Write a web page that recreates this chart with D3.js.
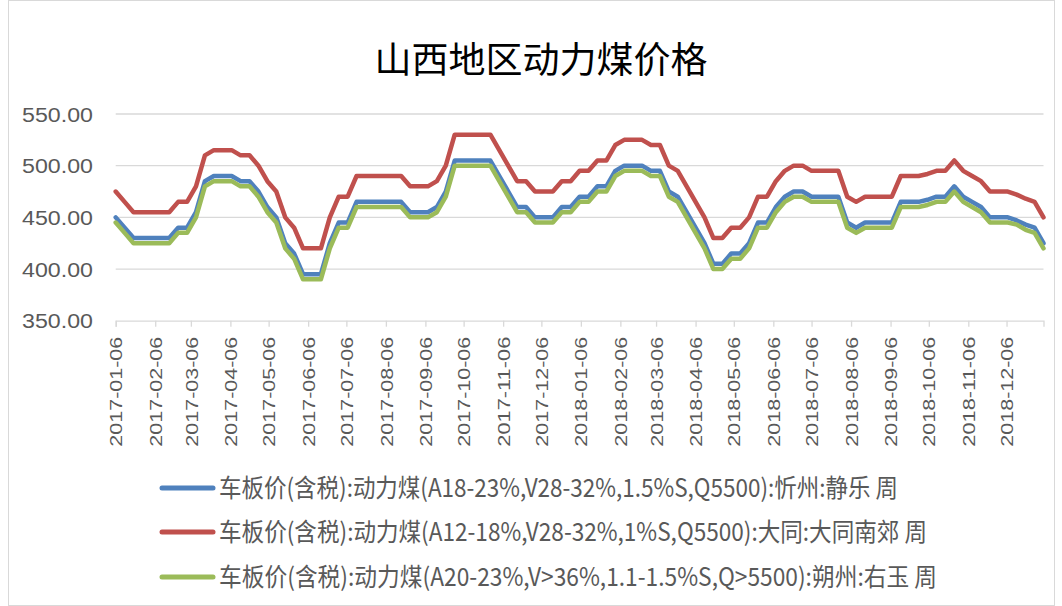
<!DOCTYPE html>
<html>
<head>
<meta charset="utf-8">
<script src="https://cdn.jsdelivr.net/npm/d3@7"></script>
<style>
  html, body { margin: 0; padding: 0; background: #fff; }
  svg { display: block; }
  text { font-family: "Liberation Sans", Arial, "Noto Sans CJK SC", sans-serif; }
  .cjk { font-family: "Noto Sans CJK SC", "Liberation Sans", sans-serif; }
</style>
</head>
<body>
<svg id="chart" width="1062" height="606"></svg>
<script>
const title = "山西地区动力煤价格"
const seriesNames = [
  "车板价(含税):动力煤(A18-23%,V28-32%,1.5%S,Q5500):忻州:静乐 周",
  "车板价(含税):动力煤(A12-18%,V28-32%,1%S,Q5500):大同:大同南郊 周",
  "车板价(含税):动力煤(A20-23%,V>36%,1.1-1.5%S,Q>5500):朔州:右玉 周"
]
const seriesColors = ["#4f81bd", "#c0504d", "#9bbb59"]
const firstWeek = "2017-01-06", lastWeek = "2019-01-04"
const yTicks = [350, 400, 450, 500, 550]

// weekly values
const jingle = [
  450, 440, 430, 430, 430, 430, 430, 440, 440, 455,
  485, 490, 490, 490, 485, 485, 475, 460, 450, 425,
  415, 395, 395, 395, 425, 445, 445, 465, 465, 465,
  465, 465, 465, 455, 455, 455, 460, 475, 505, 505,
  505, 505, 505, 490, 475, 460, 460, 450, 450, 450,
  460, 460, 470, 470, 480, 480, 495, 500, 500, 500,
  495, 495, 475, 470, 455, 440, 425, 405, 405, 415,
  415, 425, 445, 445, 460, 470, 475, 475, 470, 470,
  470, 470, 445, 440, 445, 445, 445, 445, 465, 465,
  465, 467, 470, 470, 480, 470, 465, 460, 450, 450,
  450, 447, 443, 440, 425
]
const datongNanjiao = [
  475, 465, 455, 455, 455, 455, 455, 465, 465, 480,
  510, 515, 515, 515, 510, 510, 500, 485, 475, 450,
  440, 420, 420, 420, 450, 470, 470, 490, 490, 490,
  490, 490, 490, 480, 480, 480, 485, 500, 530, 530,
  530, 530, 530, 515, 500, 485, 485, 475, 475, 475,
  485, 485, 495, 495, 505, 505, 520, 525, 525, 525,
  520, 520, 500, 495, 480, 465, 450, 430, 430, 440,
  440, 450, 470, 470, 485, 495, 500, 500, 495, 495,
  495, 495, 470, 465, 470, 470, 470, 470, 490, 490,
  490, 492, 495, 495, 505, 495, 490, 485, 475, 475,
  475, 472, 468, 465, 450
]
const youyu = [
  445, 435, 425, 425, 425, 425, 425, 435, 435, 450,
  480, 485, 485, 485, 480, 480, 470, 455, 445, 420,
  410, 390, 390, 390, 420, 440, 440, 460, 460, 460,
  460, 460, 460, 450, 450, 450, 455, 470, 500, 500,
  500, 500, 500, 485, 470, 455, 455, 445, 445, 445,
  455, 455, 465, 465, 475, 475, 490, 495, 495, 495,
  490, 490, 470, 465, 450, 435, 420, 400, 400, 410,
  410, 420, 440, 440, 455, 465, 470, 470, 465, 465,
  465, 465, 440, 435, 440, 440, 440, 440, 460, 460,
  460, 462, 465, 465, 475, 465, 460, 455, 445, 445,
  445, 443, 438, 435, 420
]

const parse = d3.timeParse("%Y-%m-%d"), fmt = d3.timeFormat("%Y-%m-%d")
const start = parse(firstWeek), end = parse(lastWeek)
const weeks = d3.range(jingle.length).map(i => d3.timeDay.offset(start, i * 7))
const monthTicks = d3.range(24).map(k => d3.timeMonth.offset(start, k))

const svg = d3.select("#chart")
const x = d3.scaleTime().domain([start, end]).range([115.7, 1043.5])
const y = d3.scaleLinear().domain([350, 550]).range([320.7, 114])

// chart frame
svg.append("rect")
  .attr("x", 8.5).attr("y", 0.5).attr("width", 1046).attr("height", 605)
  .attr("fill", "none").attr("stroke", "#d9d9d9")

// the source picture is a bit taller than wide, so text is stretched vertically
svg.append("text").attr("class", "cjk")
  .attr("transform", "translate(541,73) scale(1,1.15)")
  .attr("text-anchor", "middle")
  .attr("font-size", 32)
  .attr("textLength", 333).attr("lengthAdjust", "spacingAndGlyphs")
  .attr("fill", "#000")
  .text(title)

// gridlines
svg.append("g")
  .selectAll("line")
  .data(yTicks.filter(d => d > 350))
  .join("line")
    .attr("x1", x.range()[0]).attr("x2", x.range()[1])
    .attr("y1", d => y(d)).attr("y2", d => y(d))
    .attr("stroke", "#d9d9d9").attr("stroke-width", 1.3)

svg.append("g")
  .selectAll("text")
  .data(yTicks)
  .join("text")
    .attr("transform", d => `translate(93,${y(d)}) scale(1,1.1)`)
    .attr("dy", "0.36em")
    .attr("text-anchor", "end")
    .attr("font-size", 19)
    .attr("textLength", 71).attr("lengthAdjust", "spacingAndGlyphs")
    .attr("fill", "#595959")
    .text(d => d.toFixed(2))

// x axis
const xAxis = svg.append("g")
  .attr("transform", `translate(0,${y(350)})`)
  .call(d3.axisBottom(x).tickValues(monthTicks).tickFormat(fmt).tickSizeOuter(0).tickSize(6))
xAxis.select(".domain").attr("stroke", "#d9d9d9").attr("stroke-width", 1.3)
xAxis.selectAll(".tick line").attr("stroke", "#d9d9d9").attr("stroke-width", 1.3)
xAxis.selectAll(".tick text")
  .attr("font-family", "Liberation Sans, Arial, sans-serif")
  .attr("font-size", 17)
  .attr("fill", "#595959")
  .attr("text-anchor", "end")
  .attr("transform", "rotate(-90)")
  .attr("textLength", 110).attr("lengthAdjust", "spacingAndGlyphs")
  .attr("x", -16).attr("y", 0).attr("dy", "0.36em")

// lines
const series = [jingle, datongNanjiao, youyu]
const line = d3.line().x((d, i) => x(weeks[i])).y(d => y(d))
svg.append("g")
  .selectAll("path")
  .data(series)
  .join("path")
    .attr("d", line)
    .attr("fill", "none")
    .attr("stroke", (d, i) => seriesColors[i])
    .attr("stroke-width", 4.5)
    .attr("stroke-linejoin", "round")
    .attr("stroke-linecap", "round")

// legend
const legend = svg.append("g")
  .selectAll("g")
  .data(seriesNames)
  .join("g")
    .attr("transform", (d, i) => `translate(0,${[488, 532, 577][i]})`)
legend.append("line")
  .attr("x1", 162).attr("x2", 213)
  .attr("stroke", (d, i) => seriesColors[i])
  .attr("stroke-width", 5)
  .attr("stroke-linecap", "round")
legend.append("text").attr("class", "cjk")
  .attr("transform", "translate(219,0) scale(1,1.2)")
  .attr("dy", "0.36em")
  .attr("font-size", 21)
  .attr("fill", "#595959")
  .attr("textLength", (d, i) => [679, 708, 718][i])
  .attr("lengthAdjust", "spacingAndGlyphs")
  .text(d => d)
</script>
</body>
</html>
